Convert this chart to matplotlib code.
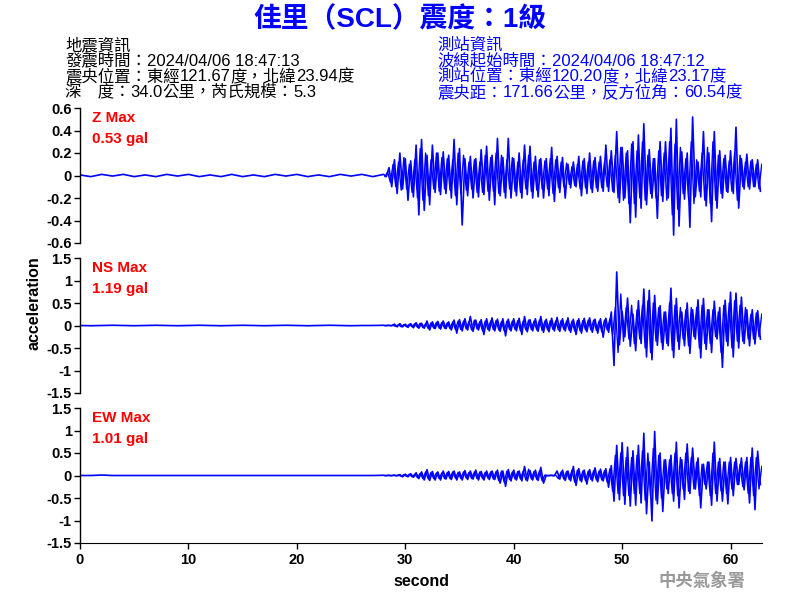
import matplotlib
matplotlib.use("Agg")
import matplotlib.pyplot as plt
import numpy as np

plt.rcParams['axes.unicode_minus'] = False

# ---------------- data ----------------
title_text = "佳里（SCL）震度：1級"
quake_info = ["地震資訊",
              "發震時間：2024/04/06 18:47:13",
              "震央位置：東經121.67度，北緯23.94度",
              "深\u3000度：34.0公里，芮氏規模：5.3"]
station_info = ["測站資訊",
                "波線起始時間：2024/04/06 18:47:12",
                "測站位置：東經120.20度，北緯23.17度",
                "震央距：171.66公里，反方位角：60.54度"]
channels = ["Z", "NS", "EW"]
max_labels = ["0.53 gal", "1.19 gal", "1.01 gal"]

# pre-event samples, 1 s apart from t=0
pre_dt = 1.0
z_pre = [0.005, -0.01, 0.01, -0.005, 0.01, -0.01, 0.005, -0.01, 0.01, -0.005,
         0.01, -0.01, 0.005, -0.01, 0.01, -0.01, 0.005, -0.01, 0.01, -0.005,
         0.01, -0.01, 0.005, -0.01, 0.01, -0.005, 0.01, -0.01]
ns_pre = [0.0, -0.005, 0.0, 0.005, 0.0, -0.005, 0.0, 0.005, 0.0, -0.005,
          0.0, 0.005, 0.0, -0.005, 0.0, 0.005, 0.0, -0.005, 0.0, 0.005,
          0.0, -0.005, 0.0, 0.005, 0.0, -0.005, 0.0, 0.0]
ew_pre = [0.0, 0.0, 0.01, 0.0, 0.0, 0.0, 0.0, 0.0, 0.0, 0.0,
          0.0, 0.0, 0.0, 0.0, 0.0, 0.0, 0.0, 0.0, 0.0, 0.0,
          0.0, 0.0, 0.0, 0.0, 0.0, 0.0, 0.0, 0.0]

# event peaks, 0.25 s apart from t=28 (main swings)
ev_start = 28.0
ev_dt = 0.25
z_ev = [0.01, -0.01, 0.07, -0.10,
        0.14, -0.16, 0.20, -0.12,
        0.15, -0.22, 0.13, -0.19,
        0.27, -0.35, 0.32, -0.31,
        0.18, -0.26, 0.27, -0.15,
        0.20, -0.17, 0.21, -0.16,
        0.18, -0.20, 0.32, -0.26,
        0.24, -0.44, 0.15, -0.18,
        0.17, -0.20, 0.15, -0.19,
        0.23, -0.17, 0.26, -0.22,
        0.18, -0.26, 0.33, -0.18,
        0.16, -0.20, 0.33, -0.20,
        0.15, -0.18, 0.20, -0.20,
        0.27, -0.17, 0.26, -0.20,
        0.17, -0.19, 0.15, -0.20,
        0.15, -0.18, 0.25, -0.23,
        0.17, -0.15, 0.16, -0.20,
        0.10, -0.11, 0.12, -0.10,
        0.17, -0.18, 0.15, -0.16,
        0.20, -0.15, 0.16, -0.14,
        0.17, -0.14, 0.27, -0.14,
        0.22, -0.15, 0.39, -0.24,
        0.25, -0.20, 0.22, -0.42,
        0.30, -0.37, 0.36, -0.29,
        0.46, -0.26, 0.23, -0.20,
        0.15, -0.38, 0.30, -0.23,
        0.30, -0.20, 0.42, -0.53,
        0.50, -0.45, 0.21, -0.21,
        0.20, -0.46, 0.52, -0.19,
        0.12, -0.19, 0.39, -0.27,
        0.20, -0.41, 0.39, -0.29,
        0.22, -0.20, 0.18, -0.15,
        0.22, -0.16, 0.43, -0.29,
        0.15, -0.12, 0.19, -0.12,
        0.14, -0.10, 0.14, -0.14]
ns_ev = [0.005, -0.005, 0.005, -0.005,
         0.03, -0.03, 0.04, -0.03,
         0.03, -0.04, 0.04, -0.05,
         0.06, -0.06, 0.05, -0.06,
         0.10, -0.10, 0.08, -0.07,
         0.09, -0.08, 0.10, -0.07,
         0.08, -0.10, 0.12, -0.17,
         0.13, -0.12, 0.15, -0.10,
         0.20, -0.13, 0.12, -0.10,
         0.13, -0.20, 0.15, -0.12,
         0.17, -0.12, 0.14, -0.13,
         0.15, -0.23, 0.14, -0.12,
         0.15, -0.12, 0.16, -0.20,
         0.20, -0.14, 0.13, -0.12,
         0.15, -0.13, 0.20, -0.15,
         0.14, -0.14, 0.16, -0.12,
         0.18, -0.13, 0.15, -0.12,
         0.17, -0.15, 0.14, -0.20,
         0.15, -0.17, 0.16, -0.14,
         0.17, -0.15, 0.14, -0.17,
         0.15, -0.26, 0.16, -0.15,
         0.30, -0.89, 1.19, -0.43,
         0.31, -0.25, 0.61, -0.46,
         0.25, -0.56, 0.55, -0.40,
         0.81, -0.70, 0.78, -0.76,
         0.67, -0.44, 0.44, -0.53,
         0.30, -0.45, 0.83, -0.71,
         0.60, -0.53, 0.30, -0.45,
         0.50, -0.62, 0.35, -0.30,
         0.57, -0.72, 0.60, -0.53,
         0.35, -0.60, 0.54, -0.30,
         0.40, -0.93, 0.56, -0.45,
         0.74, -0.70, 0.72, -0.50,
         0.63, -0.40, 0.35, -0.45,
         0.35, -0.41, 0.33, -0.30]
ew_ev = [0.005, -0.005, 0.005, -0.005,
         0.01, -0.01, 0.02, -0.03,
         0.03, -0.03, 0.04, -0.04,
         0.06, -0.07, 0.08, -0.10,
         0.13, -0.11, 0.09, -0.10,
         0.08, -0.10, 0.10, -0.08,
         0.09, -0.09, 0.10, -0.10,
         0.08, -0.10, 0.11, -0.09,
         0.10, -0.08, 0.12, -0.10,
         0.09, -0.10, 0.10, -0.09,
         0.10, -0.09, 0.12, -0.17,
         0.10, -0.24, 0.13, -0.12,
         0.12, -0.10, 0.10, -0.12,
         0.20, -0.12, 0.11, -0.10,
         0.12, -0.11, 0.18, -0.17,
         0.005, -0.005, 0.005, -0.005,
         0.10, -0.08, 0.12, -0.11,
         0.10, -0.12, 0.20, -0.22,
         0.15, -0.14, 0.12, -0.19,
         0.13, -0.12, 0.17, -0.14,
         0.14, -0.12, 0.15, -0.26,
         0.22, -0.57, 0.67, -0.54,
         0.73, -0.64, 0.63, -0.68,
         0.55, -0.66, 0.67, -0.61,
         0.94, -0.85, 0.30, -1.01,
         0.98, -0.63, 0.50, -0.80,
         0.35, -0.40, 0.45, -0.57,
         0.74, -0.72, 0.35, -0.53,
         0.70, -0.40, 0.61, -0.30,
         0.39, -0.72, 0.25, -0.30,
         0.30, -0.66, 0.74, -0.57,
         0.38, -0.57, 0.30, -0.63,
         0.40, -0.45, 0.38, -0.20,
         0.39, -0.32, 0.40, -0.61,
         0.61, -0.76, 0.54, -0.20]

# in-between (smaller) swings, 0.25 s apart from t=28.125
mid_start = 28.125
z_mid = [-0.01, 0.03, -0.06, 0.10,
         -0.10, 0.12, -0.13, 0.16,
         -0.12, 0.10, -0.15, 0.14,
         -0.20, 0.24, -0.22, 0.20,
         -0.18, 0.14, -0.12, 0.20,
         -0.14, 0.16, -0.12, 0.15,
         -0.13, 0.14, -0.18, 0.20,
         -0.16, 0.18, -0.13, 0.12,
         -0.12, 0.14, -0.15, 0.12,
         -0.15, 0.18, -0.14, 0.16,
         -0.14, 0.20, -0.16, 0.18,
         -0.15, 0.14, -0.12, 0.16,
         -0.14, 0.12, -0.15, 0.14,
         -0.12, 0.18, -0.14, 0.12,
         -0.13, 0.14, -0.12, 0.13,
         -0.12, 0.15, -0.16, 0.14,
         -0.11, 0.12, -0.10, 0.11,
         -0.08, 0.08, -0.09, 0.10,
         -0.12, 0.13, -0.11, 0.12,
         -0.12, 0.13, -0.11, 0.12,
         -0.11, 0.12, -0.10, 0.14,
         -0.14, 0.18, -0.20, 0.25,
         -0.22, 0.20, -0.25, 0.28,
         -0.25, 0.22, -0.20, 0.30,
         -0.22, 0.18, -0.16, 0.15,
         -0.20, 0.22, -0.18, 0.20,
         -0.22, 0.30, -0.35, 0.28,
         -0.30, 0.25, -0.16, 0.15,
         -0.20, 0.30, -0.25, 0.14,
         -0.14, 0.20, -0.22, 0.25,
         -0.25, 0.30, -0.22, 0.18,
         -0.16, 0.15, -0.14, 0.13,
         -0.14, 0.20, -0.22, 0.18,
         -0.10, 0.12, -0.10, 0.13,
         -0.10, 0.10, -0.12, 0.10]
ns_mid = [-0.003, 0.003, -0.003, 0.003,
          -0.02, 0.02, -0.03, 0.02,
          -0.03, 0.03, -0.03, 0.04,
          -0.04, 0.05, -0.05, 0.04,
          -0.07, 0.06, -0.06, 0.07,
          -0.06, 0.07, -0.06, 0.06,
          -0.07, 0.08, -0.09, 0.10,
          -0.09, 0.10, -0.08, 0.09,
          -0.10, 0.12, -0.08, 0.09,
          -0.12, 0.10, -0.09, 0.10,
          -0.09, 0.11, -0.10, 0.09,
          -0.12, 0.10, -0.09, 0.10,
          -0.09, 0.11, -0.12, 0.10,
          -0.10, 0.12, -0.09, 0.10,
          -0.10, 0.12, -0.11, 0.10,
          -0.10, 0.11, -0.09, 0.10,
          -0.10, 0.11, -0.09, 0.10,
          -0.11, 0.10, -0.12, 0.11,
          -0.12, 0.11, -0.10, 0.12,
          -0.10, 0.12, -0.11, 0.10,
          -0.14, 0.12, -0.10, 0.15,
          -0.20, 0.40, -0.60, 0.70,
          -0.35, 0.40, -0.30, 0.45,
          -0.40, 0.35, -0.30, 0.45,
          -0.50, 0.55, -0.60, 0.50,
          -0.35, 0.40, -0.38, 0.30,
          -0.40, 0.50, -0.55, 0.45,
          -0.35, 0.40, -0.30, 0.35,
          -0.45, 0.40, -0.25, 0.40,
          -0.50, 0.45, -0.40, 0.35,
          -0.40, 0.35, -0.25, 0.30,
          -0.60, 0.45, -0.35, 0.50,
          -0.50, 0.55, -0.35, 0.45,
          -0.35, 0.40, -0.30, 0.25,
          -0.30, 0.28, -0.25, 0.25]
ew_mid = [-0.003, 0.003, -0.003, 0.003,
          -0.005, 0.01, -0.02, 0.02,
          -0.02, 0.03, -0.03, 0.03,
          -0.05, 0.05, -0.07, 0.08,
          -0.08, 0.07, -0.07, 0.06,
          -0.07, 0.06, -0.07, 0.07,
          -0.07, 0.08, -0.06, 0.07,
          -0.07, 0.08, -0.06, 0.07,
          -0.07, 0.08, -0.07, 0.08,
          -0.07, 0.07, -0.06, 0.08,
          -0.08, 0.09, -0.12, 0.10,
          -0.15, 0.10, -0.09, 0.08,
          -0.08, 0.09, -0.08, 0.10,
          -0.10, 0.14, -0.08, 0.09,
          -0.09, 0.10, -0.12, 0.01,
          -0.005, 0.005, -0.005, 0.005,
          -0.07, 0.08, -0.08, 0.09,
          -0.09, 0.12, -0.15, 0.12,
          -0.11, 0.10, -0.12, 0.10,
          -0.09, 0.11, -0.10, 0.10,
          -0.10, 0.11, -0.15, 0.15,
          -0.35, 0.45, -0.40, 0.50,
          -0.45, 0.40, -0.45, 0.40,
          -0.40, 0.45, -0.40, 0.55,
          -0.55, 0.50, -0.45, 0.60,
          -0.55, 0.45, -0.50, 0.35,
          -0.30, 0.35, -0.40, 0.50,
          -0.45, 0.40, -0.30, 0.50,
          -0.35, 0.40, -0.30, 0.30,
          -0.45, 0.25, -0.20, 0.30,
          -0.45, 0.50, -0.40, 0.30,
          -0.35, 0.30, -0.40, 0.30,
          -0.30, 0.30, -0.20, 0.25,
          -0.25, 0.30, -0.40, 0.40,
          -0.45, 0.40, -0.30, 0.20]

z_ticks = [0.6, 0.4, 0.2, 0, -0.2, -0.4, -0.6]
h_ticks = [1.5, 1, 0.5, 0, -0.5, -1, -1.5]
x_ticks = [0, 10, 20, 30, 40, 50, 60]
x_max = 62.9

# ---------------- figure ----------------
CJK = ['Liberation Sans', 'Noto Sans CJK TC', 'DejaVu Sans']
fig = plt.figure(figsize=(8, 6), dpi=100)
renderer = fig.canvas.get_renderer()
FW, FH = 800.0, 600.0


def is_cjk(ch):
    return ord(ch) >= 0x2E80


def split_runs(s):
    runs = []
    for ch in s:
        c = is_cjk(ch)
        if runs and runs[-1][1] == c:
            runs[-1][0] += ch
        else:
            runs.append([ch, c])
    return runs


def draw_mixed(x_px, base_px, s, color, cjk_size, lat_size, weight='normal'):
    cur = x_px
    for run, c in split_runs(s):
        if c:
            t = fig.text(cur / FW, 1 - base_px / FH, run, color=color, fontsize=cjk_size,
                         fontweight=weight, family=['Noto Sans CJK TC'],
                         ha='left', va='baseline')
        else:
            t = fig.text(cur / FW, 1 - base_px / FH, run, color=color, fontsize=lat_size,
                         fontweight=weight, family=['Liberation Sans'],
                         ha='left', va='baseline')
        bb = t.get_window_extent(renderer)
        cur = bb.x1


fig.text(0.5, 0.967, title_text, color='#0000FF', fontsize=20, fontweight='bold',
         ha='center', va='center', family=CJK)
for i, line in enumerate(quake_info):
    draw_mixed(65, 50 + i * 15.7, line, 'black', 11.8, 12)
for i, line in enumerate(station_info):
    draw_mixed(437, 50 + i * 15.7, line, '#0000FF', 11.8, 12)

pres = [z_pre, ns_pre, ew_pre]
evs = [z_ev, ns_ev, ew_ev]
mids = [z_mid, ns_mid, ew_mid]
tick_sets = [z_ticks, h_ticks, h_ticks]
lims = [0.6, 1.5, 1.5]
boxes = [(0.1, 0.595, 0.8525, 0.225), (0.1, 0.345, 0.8525, 0.225), (0.1, 0.095, 0.8525, 0.225)]

axes = []
for k in range(3):
    ax = fig.add_axes(boxes[k])
    t_pre = np.arange(len(pres[k])) * pre_dt
    t_ev = ev_start + np.arange(len(evs[k])) * ev_dt
    t_mid = mid_start + np.arange(len(mids[k])) * ev_dt
    t = np.concatenate([t_pre, t_ev])
    y = np.concatenate([pres[k], evs[k]])
    ax.plot(t_mid, mids[k], color='#0000FF', lw=1.0)
    ax.plot(t, y, color='#0000FF', lw=1.2)
    ax.set_xlim(0, x_max)
    ax.set_ylim(-lims[k], lims[k])
    ax.set_yticks(tick_sets[k])
    ax.set_yticklabels([('%g' % v) for v in tick_sets[k]], fontsize=10.5, fontweight='bold',
                       family='Liberation Sans')
    for s in ['top', 'right']:
        ax.spines[s].set_visible(False)
    ax.spines['left'].set_linewidth(1.0)
    ax.tick_params(axis='y', length=4, width=1, pad=2)
    if k < 2:
        ax.spines['bottom'].set_visible(False)
        ax.set_xticks([])
    else:
        ax.set_xticks(x_ticks)
        ax.set_xticklabels([str(v) for v in x_ticks], fontsize=10.5, fontweight='bold',
                           family='Liberation Sans')
        ax.tick_params(axis='x', length=4, width=1, pad=3)
        ax.set_xlabel('second', fontsize=11.5, fontweight='bold', family='Liberation Sans',
                      labelpad=5)
    ax.text(0.018, 0.925, channels[k] + ' Max', transform=ax.transAxes, color='#FF0000',
            fontsize=11, fontweight='bold', ha='left', va='center', family='Liberation Sans')
    ax.text(0.018, 0.77, max_labels[k], transform=ax.transAxes, color='#FF0000',
            fontsize=11, fontweight='bold', ha='left', va='center', family='Liberation Sans')
    axes.append(ax)

fig.text(0.042, 0.495, 'acceleration', rotation=90, fontsize=11.5, fontweight='bold',
         ha='center', va='center', family='Liberation Sans')
fig.text(0.877, 0.032, '中央氣象署', color='#999999', fontsize=12.5, fontweight='bold',
         ha='center', va='center', family=['Noto Sans CJK TC'])

fig.savefig('out.png', dpi=100)
